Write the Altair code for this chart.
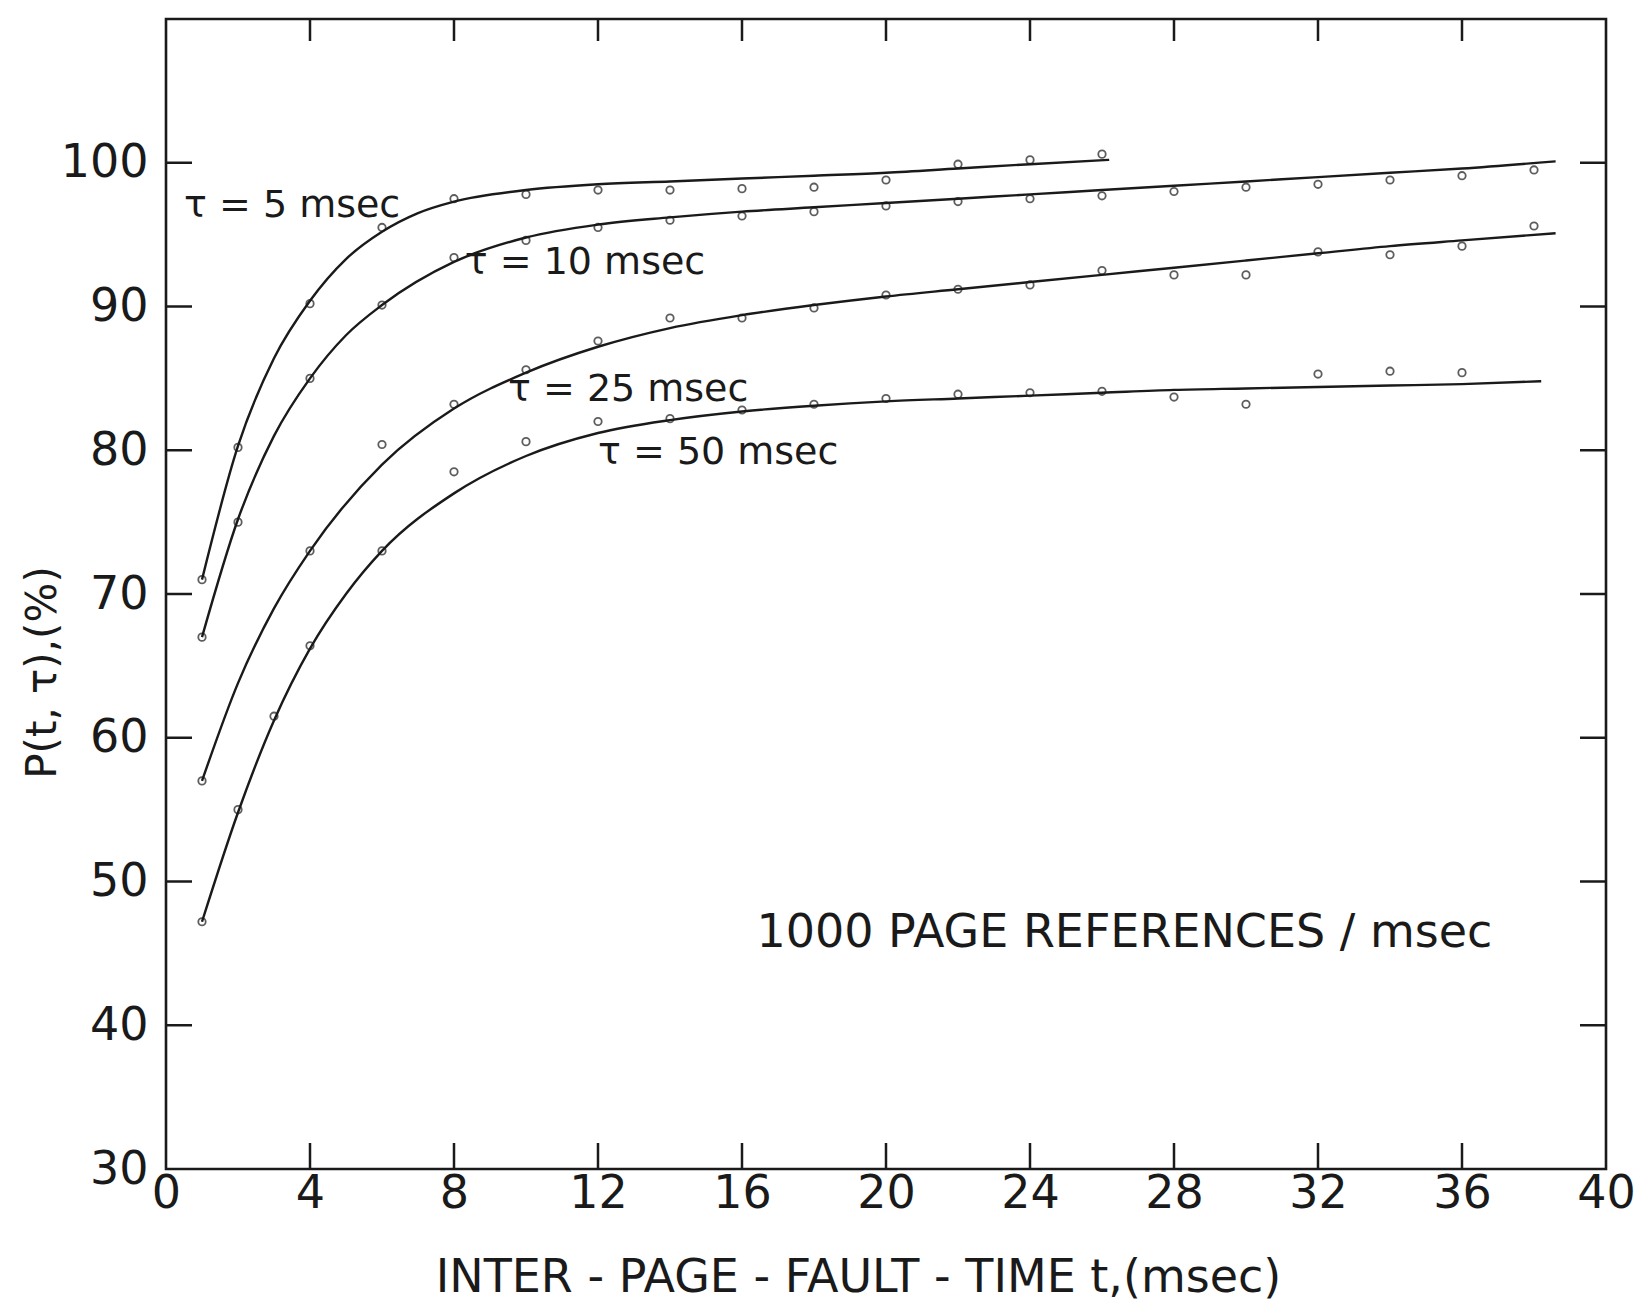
import altair as alt
import pandas as pd

# ---- fitted curves (t in msec, P in %) ----
curve_t_5 = [1, 2, 3, 4, 5, 6, 7, 8, 10, 12, 14, 16, 18, 20, 22, 24, 26.2]
curve_p_5 = [71.0, 80.3, 86.4, 90.4, 93.3, 95.2, 96.5, 97.3, 98.1, 98.5, 98.7, 98.9, 99.1, 99.3, 99.6, 99.9, 100.2]

curve_t_10 = [1, 2, 3, 4, 5, 6, 8, 10, 12, 14, 16, 18, 20, 22, 24, 26, 28, 30, 32, 34, 36, 38.6]
curve_p_10 = [67.0, 75.2, 81.0, 85.0, 88.0, 90.1, 93.1, 94.8, 95.7, 96.2, 96.6, 96.9, 97.2, 97.5, 97.8, 98.1, 98.4, 98.7, 99.0, 99.3, 99.6, 100.1]

curve_t_25 = [1, 2, 3, 4, 6, 8, 10, 12, 14, 16, 18, 20, 22, 24, 26, 28, 30, 32, 34, 36, 38.6]
curve_p_25 = [57.0, 63.8, 69.0, 73.0, 79.0, 82.9, 85.4, 87.2, 88.5, 89.4, 90.1, 90.7, 91.2, 91.7, 92.2, 92.7, 93.2, 93.7, 94.2, 94.6, 95.1]

curve_t_50 = [1, 2, 3, 4, 5, 6, 8, 10, 12, 14, 16, 18, 20, 22, 24, 26, 28, 30, 32, 34, 36, 38.2]
curve_p_50 = [47.2, 54.8, 61.2, 66.2, 70.0, 73.0, 77.0, 79.6, 81.2, 82.1, 82.7, 83.1, 83.4, 83.6, 83.8, 84.0, 84.2, 84.3, 84.4, 84.5, 84.6, 84.8]

# ---- measured points ----
pts_t_5 = [1, 2, 4, 6, 8, 10, 12, 14, 16, 18, 20, 22, 24, 26]
pts_p_5 = [71.0, 80.2, 90.2, 95.5, 97.5, 97.8, 98.1, 98.1, 98.2, 98.3, 98.8, 99.9, 100.2, 100.6]

pts_t_10 = [1, 2, 4, 6, 8, 10, 12, 14, 16, 18, 20, 22, 24, 26, 28, 30, 32, 34, 36, 38]
pts_p_10 = [67.0, 75.0, 85.0, 90.1, 93.4, 94.6, 95.5, 96.0, 96.3, 96.6, 97.0, 97.3, 97.5, 97.7, 98.0, 98.3, 98.5, 98.8, 99.1, 99.5]

pts_t_25 = [1, 4, 6, 8, 10, 12, 14, 16, 18, 20, 22, 24, 26, 28, 30, 32, 34, 36, 38]
pts_p_25 = [57.0, 73.0, 80.4, 83.2, 85.6, 87.6, 89.2, 89.2, 89.9, 90.8, 91.2, 91.5, 92.5, 92.2, 92.2, 93.8, 93.6, 94.2, 95.6]

pts_t_50 = [1, 2, 3, 4, 6, 8, 10, 12, 14, 16, 18, 20, 22, 24, 26, 28, 30, 32, 34, 36]
pts_p_50 = [47.2, 55.0, 61.5, 66.4, 73.0, 78.5, 80.6, 82.0, 82.2, 82.8, 83.2, 83.6, 83.9, 84.0, 84.1, 83.7, 83.2, 85.3, 85.5, 85.4]

# ---- curve labels (anchor in data units) ----
label_text = ["τ = 5 msec", "τ = 10 msec", "τ = 25 msec", "τ = 50 msec"]
label_t = [0.5, 8.3, 9.5, 12.0]
label_p = [97.0, 93.0, 84.2, 79.8]

note_text = ["1000 PAGE REFERENCES / msec"]
note_t = [16.4]
note_p = [46.4]

x_ticks = [0, 4, 8, 12, 16, 20, 24, 28, 32, 36, 40]
y_ticks = [30, 40, 50, 60, 70, 80, 90, 100]
inner_x_ticks = [4, 8, 12, 16, 20, 24, 28, 32, 36]
inner_y_ticks = [40, 50, 60, 70, 80, 90, 100]

W, H = 1440, 1150
FONT = "DejaVu Sans"
INK = "#1a1a1a"

def frame(ts, ps, tau):
    return pd.DataFrame({"t": ts, "p": ps, "tau": tau})

curves = pd.concat([
    frame(curve_t_5, curve_p_5, "5"),
    frame(curve_t_10, curve_p_10, "10"),
    frame(curve_t_25, curve_p_25, "25"),
    frame(curve_t_50, curve_p_50, "50"),
])
points = pd.concat([
    frame(pts_t_5, pts_p_5, "5"),
    frame(pts_t_10, pts_p_10, "10"),
    frame(pts_t_25, pts_p_25, "25"),
    frame(pts_t_50, pts_p_50, "50"),
])
labels = pd.DataFrame({"t": label_t, "p": label_p, "text": label_text})
notes = pd.DataFrame({"t": note_t, "p": note_p, "text": note_text})
ydf = pd.DataFrame({"t": [0] * len(inner_y_ticks), "p": inner_y_ticks})
xdf = pd.DataFrame({"t": inner_x_ticks, "p": [30] * len(inner_x_ticks)})

xscale = alt.Scale(domain=[0, 40], nice=False, zero=False)
yscale = alt.Scale(domain=[30, 110], nice=False, zero=False)

x_axis = alt.Axis(
    values=x_ticks, tickSize=0, domain=False, grid=False,
    labelFont=FONT, labelFontSize=46, labelColor=INK, labelPadding=2,
    labelFlush=False, labelOverlap=False, labelBound=False,
    title="INTER - PAGE - FAULT - TIME  t,(msec)",
    titleFont=FONT, titleFontSize=46, titleFontWeight="normal", titleColor=INK,
    titleX=692, titleY=108, titleBaseline="middle", titleAlign="center",
)
y_axis = alt.Axis(
    values=y_ticks, tickSize=0, domain=False, grid=False,
    labelFont=FONT, labelFontSize=46, labelColor=INK, labelPadding=18,
    labelFlush=False, labelOverlap=False, labelBound=False,
    title="P(t, τ),(%)",
    titleFont=FONT, titleFontSize=42, titleFontWeight="normal", titleColor=INK,
    titleAngle=270, titleX=-124, titleY=653, titleBaseline="middle", titleAlign="center",
)

X = alt.X("t:Q", scale=xscale, axis=x_axis)
Y = alt.Y("p:Q", scale=yscale, axis=y_axis)

lines = alt.Chart(curves).mark_line(
    interpolate="monotone", color=INK, strokeWidth=2.4
).encode(x=X, y=Y, detail="tau:N")

dots = alt.Chart(points).mark_point(
    shape="circle", filled=False, size=55, color=INK, strokeWidth=1.8
).encode(x=X, y=Y)

label_layer = alt.Chart(labels).mark_text(
    align="left", baseline="middle", font=FONT, fontSize=38, color=INK
).encode(x=X, y=Y, text="text:N")

note_layer = alt.Chart(notes).mark_text(
    align="left", baseline="middle", font=FONT, fontSize=46, color=INK
).encode(x=X, y=Y, text="text:N")

left_ticks = alt.Chart(ydf).mark_rule(color=INK, strokeWidth=2.5).encode(
    y=Y, x=alt.value(0), x2=alt.value(26))
right_ticks = alt.Chart(ydf).mark_rule(color=INK, strokeWidth=2.5).encode(
    y=Y, x=alt.value(W - 26), x2=alt.value(W))
bottom_ticks = alt.Chart(xdf).mark_rule(color=INK, strokeWidth=2.5).encode(
    x=X, y=alt.value(H - 26), y2=alt.value(H))
top_ticks = alt.Chart(xdf).mark_rule(color=INK, strokeWidth=2.5).encode(
    x=X, y=alt.value(0), y2=alt.value(22))

chart = alt.layer(
    lines, dots, label_layer, note_layer,
    left_ticks, right_ticks, bottom_ticks, top_ticks,
).properties(
    width=W, height=H,
    autosize=alt.AutoSizeParams(type="none"),
    padding={"left": 166, "top": 19, "right": 43, "bottom": 135},
    background="white",
).configure_view(
    stroke=INK, strokeWidth=2.6,
)

chart.save("out.html", embed_options={"renderer": "svg", "actions": False})
